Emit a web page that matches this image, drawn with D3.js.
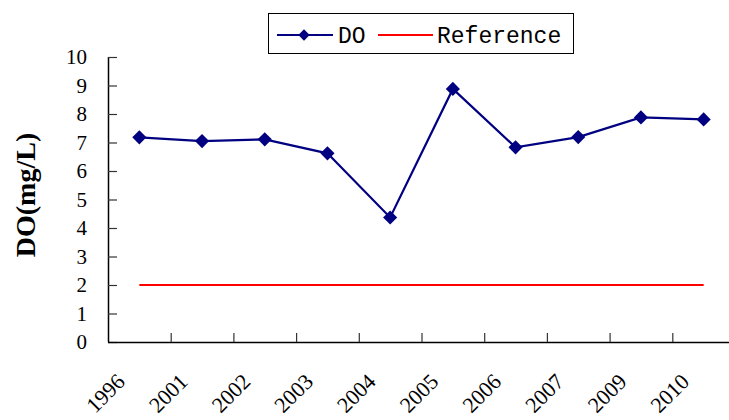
<!DOCTYPE html>
<html><head><meta charset="utf-8">
<script src="https://cdn.jsdelivr.net/npm/d3@7"></script>
<style>body{margin:0;background:#fff}svg{display:block}</style>
</head><body>
<script>
const years = ["1996","2001","2002","2003","2004","2005","2006","2007","2009","2010"];
const doValues = [7.18, 7.05, 7.11, 6.62, 4.37, 8.88, 6.83, 7.19, 7.88, 7.81];
const referenceValue = [2, 2, 2, 2, 2, 2, 2, 2, 2, 2];
const yTicks = [0,1,2,3,4,5,6,7,8,9,10];
const seriesNames = ["DO", "Reference"];

const SERIF = '"Liberation Serif"';
const MONO = '"Liberation Mono"';
const W = 729, H = 420;
const svg = d3.select("body").append("svg").attr("width", W).attr("height", H);

const x0 = 108, xEnd = 735, y0 = 342, yTop = 57;
const x = d3.scaleBand().domain(years).range([x0, xEnd]);
const y = d3.scaleLinear().domain([0, 10]).range([y0, yTop]);
const cx = d => x(d) + x.bandwidth() / 2;

// y axis
const yAxis = d3.axisRight(y).tickValues(yTicks).tickSize(9).tickFormat("");
const gy = svg.append("g").attr("transform", `translate(${x0},0)`).call(yAxis);
gy.select(".domain").attr("d", `M0.5,${yTop}V${y0}`).attr("stroke", "#000").attr("stroke-width", 1.5);
gy.selectAll(".tick line").attr("stroke", "#333").attr("stroke-width", 1.2);

svg.append("g").selectAll("text").data(yTicks).join("text")
  .style("font-family", SERIF)
  .attr("x", 87).attr("y", d => y(d)).attr("dy", "0.35em")
  .attr("text-anchor", "end").attr("font-size", 21)
  .attr("fill", "#000").text(d => d);

// x axis: ticks at category boundaries
const gx = svg.append("g").attr("transform", `translate(0,${y0})`);
gx.append("path").attr("d", `M${x0},0.5H${W + 5}`).attr("stroke", "#000").attr("stroke-width", 1.5);
gx.selectAll("line").data(years.slice(1)).join("line")
  .attr("x1", d => x(d) + 0.5).attr("x2", d => x(d) + 0.5)
  .attr("y1", 0).attr("y2", -9).attr("stroke", "#333").attr("stroke-width", 1.2);

svg.append("g").selectAll("text").data(years).join("text")
  .style("font-family", SERIF)
  .attr("transform", d => `translate(${cx(d) - 13},${383}) rotate(-45)`)
  .attr("text-anchor", "end").attr("font-size", 22)
  .attr("fill", "#000").text(d => d);

// y title
svg.append("text").style("font-family", SERIF)
  .attr("transform", `translate(35,195) rotate(-90)`)
  .attr("text-anchor", "middle").attr("font-weight", "bold")
  .attr("font-size", 28).attr("fill", "#000").text("DO(mg/L)");

// reference line
svg.append("path")
  .attr("d", d3.line().x((d, i) => cx(years[i])).y(d => y(d))(referenceValue))
  .attr("fill", "none").attr("stroke", "#ff0000").attr("stroke-width", 2);

// DO line
svg.append("path")
  .attr("d", d3.line().x((d, i) => cx(years[i])).y(d => y(d))(doValues))
  .attr("fill", "none").attr("stroke", "#000080").attr("stroke-width", 2.2);

const diamond = d3.symbol().type(d3.symbolSquare).size(100);
svg.append("g").selectAll("path").data(doValues).join("path")
  .attr("transform", (d, i) => `translate(${cx(years[i])},${y(d)}) rotate(45)`)
  .attr("d", diamond).attr("fill", "#000080");

// legend
const lg = svg.append("g");
lg.append("rect").attr("x", 268.5).attr("y", 13.5).attr("width", 305).attr("height", 40)
  .attr("fill", "#fff").attr("stroke", "#000").attr("stroke-width", 1);
lg.append("line").attr("x1", 277).attr("x2", 333).attr("y1", 35).attr("y2", 35)
  .attr("stroke", "#000080").attr("stroke-width", 2);
lg.append("path").attr("transform", "translate(304,35) rotate(45)")
  .attr("d", d3.symbol().type(d3.symbolSquare).size(64)).attr("fill", "#000080");
lg.append("text").style("font-family", MONO).attr("x", 338).attr("y", 35).attr("dy", "0.35em")
  .attr("font-size", 23).attr("fill", "#000").text(seriesNames[0]);
lg.append("line").attr("x1", 378).attr("x2", 433).attr("y1", 35).attr("y2", 35)
  .attr("stroke", "#ff0000").attr("stroke-width", 2);
lg.append("text").style("font-family", MONO).attr("x", 437).attr("y", 35).attr("dy", "0.35em")
  .attr("font-size", 23).attr("fill", "#000").text(seriesNames[1]);
</script>
</body></html>
